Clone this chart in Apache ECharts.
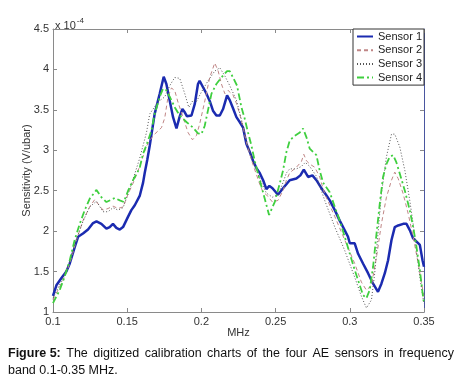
<!DOCTYPE html>
<html><head><meta charset="utf-8">
<script src="https://cdn.jsdelivr.net/npm/echarts@6/dist/echarts.min.js"></script>
<style>html,body{margin:0;padding:0;background:#fff}#c{width:460px;height:380px}</style>
</head><body><div id="c"></div>
<script>
// values in units of 1e-4 V/ubar, x in MHz
const seriesNames = ['Sensor 1', 'Sensor 2', 'Sensor 3', 'Sensor 4'];
const sensor1 = [[0.1,1.20],[0.1023,1.33],[0.1057,1.42],[0.109,1.50],[0.1113,1.60],[0.1146,1.80],[0.1169,1.93],[0.1202,1.97],[0.1236,2.02],[0.127,2.10],[0.1293,2.12],[0.1326,2.09],[0.136,2.03],[0.1382,2.05],[0.1404,2.09],[0.1427,2.04],[0.145,2.02],[0.1472,2.05],[0.1506,2.18],[0.1528,2.26],[0.1551,2.32],[0.1585,2.44],[0.1607,2.60],[0.1618,2.72],[0.1635,2.88],[0.1652,3.06],[0.1685,3.45],[0.1719,3.70],[0.1746,3.91],[0.1764,3.82],[0.1787,3.61],[0.1809,3.41],[0.1832,3.27],[0.1854,3.42],[0.1872,3.51],[0.1888,3.47],[0.1903,3.42],[0.1933,3.43],[0.1955,3.57],[0.1977,3.82],[0.1988,3.86],[0.2011,3.78],[0.2034,3.70],[0.2056,3.61],[0.2078,3.49],[0.2101,3.43],[0.2124,3.43],[0.2146,3.51],[0.2173,3.68],[0.2191,3.62],[0.2213,3.52],[0.2236,3.41],[0.2258,3.35],[0.2281,3.28],[0.2303,3.08],[0.2326,2.98],[0.2348,2.87],[0.2371,2.78],[0.2393,2.72],[0.2416,2.63],[0.2438,2.52],[0.2458,2.56],[0.2479,2.53],[0.2516,2.45],[0.255,2.53],[0.2595,2.63],[0.264,2.65],[0.2667,2.69],[0.269,2.76],[0.2719,2.67],[0.2748,2.69],[0.2775,2.63],[0.2809,2.53],[0.2843,2.44],[0.2865,2.38],[0.2899,2.26],[0.2932,2.13],[0.2966,2.01],[0.2988,1.93],[0.3,1.85],[0.3033,1.85],[0.3056,1.72],[0.3089,1.60],[0.3123,1.48],[0.3157,1.35],[0.319,1.25],[0.3213,1.35],[0.3236,1.48],[0.3258,1.64],[0.3281,1.89],[0.3303,2.05],[0.3326,2.07],[0.336,2.09],[0.3382,2.09],[0.3405,2.01],[0.3427,1.91],[0.345,1.87],[0.3472,1.83],[0.349,1.64],[0.35,1.56]];
const sensor2 = [[0.1,1.15],[0.1067,1.39],[0.1113,1.60],[0.1158,1.89],[0.1202,2.13],[0.1247,2.30],[0.1281,2.39],[0.1293,2.40],[0.1337,2.26],[0.1371,2.28],[0.1404,2.31],[0.1438,2.28],[0.1472,2.30],[0.1506,2.46],[0.1539,2.59],[0.1584,2.80],[0.1629,3.05],[0.1674,3.18],[0.1708,3.24],[0.1731,3.28],[0.1753,3.40],[0.1775,3.66],[0.1798,3.77],[0.182,3.74],[0.1843,3.59],[0.1876,3.41],[0.191,3.22],[0.194,3.13],[0.1966,3.18],[0.1989,3.33],[0.2023,3.61],[0.2056,3.90],[0.209,4.08],[0.2113,3.98],[0.2135,3.82],[0.2158,3.70],[0.218,3.74],[0.2214,3.68],[0.2236,3.58],[0.2258,3.45],[0.2281,3.28],[0.2303,3.10],[0.2326,2.95],[0.2348,2.82],[0.2371,2.70],[0.2393,2.58],[0.2416,2.48],[0.2438,2.45],[0.2479,2.36],[0.2516,2.38],[0.255,2.50],[0.2573,2.63],[0.2595,2.72],[0.264,2.79],[0.2674,2.86],[0.269,2.95],[0.2708,2.87],[0.273,2.83],[0.2764,2.79],[0.2797,2.67],[0.2831,2.46],[0.2899,2.18],[0.2966,1.89],[0.3033,1.60],[0.3078,1.37],[0.3112,1.27],[0.3146,1.33],[0.318,1.68],[0.3213,2.09],[0.3247,2.42],[0.3281,2.63],[0.3303,2.73],[0.3326,2.65],[0.336,2.46],[0.3393,2.22],[0.3427,1.93],[0.3461,1.60],[0.3488,1.31],[0.35,1.19]];
const sensor3 = [[0.1,1.17],[0.1067,1.42],[0.1113,1.62],[0.1158,1.90],[0.1202,2.12],[0.1247,2.30],[0.1293,2.37],[0.1337,2.24],[0.1371,2.24],[0.1404,2.29],[0.1438,2.26],[0.1472,2.29],[0.1506,2.46],[0.1539,2.64],[0.1584,2.90],[0.163,3.22],[0.1652,3.45],[0.1708,3.60],[0.1753,3.66],[0.1787,3.80],[0.182,3.90],[0.1854,3.89],[0.1888,3.70],[0.1915,3.53],[0.1944,3.62],[0.1966,3.60],[0.2,3.72],[0.2045,3.86],[0.209,3.98],[0.2124,4.02],[0.2158,3.92],[0.2191,3.80],[0.2236,3.62],[0.2281,3.30],[0.2303,3.12],[0.2326,2.98],[0.2348,2.86],[0.2371,2.75],[0.2405,2.60],[0.2438,2.47],[0.2479,2.42],[0.2516,2.45],[0.255,2.60],[0.2573,2.72],[0.2595,2.77],[0.264,2.77],[0.2674,2.80],[0.27,2.85],[0.273,2.80],[0.2775,2.68],[0.2831,2.38],[0.2899,2.05],[0.2966,1.76],[0.3033,1.43],[0.3079,1.19],[0.3112,1.05],[0.3146,1.15],[0.3168,1.48],[0.319,1.97],[0.3213,2.46],[0.3247,2.92],[0.3281,3.20],[0.3303,3.20],[0.3337,3.04],[0.3371,2.75],[0.3404,2.38],[0.3427,2.09],[0.3449,1.76],[0.3472,1.43],[0.35,1.10]];
const sensor4 = [[0.1,1.11],[0.1045,1.27],[0.1079,1.44],[0.1113,1.64],[0.1146,1.89],[0.118,2.09],[0.1214,2.26],[0.1247,2.40],[0.1293,2.51],[0.1326,2.42],[0.136,2.36],[0.1394,2.39],[0.1416,2.41],[0.145,2.38],[0.1477,2.36],[0.1506,2.50],[0.1539,2.63],[0.1584,2.78],[0.1607,2.96],[0.1629,3.06],[0.1663,3.24],[0.1685,3.45],[0.1719,3.66],[0.1741,3.76],[0.176,3.75],[0.1787,3.66],[0.1821,3.53],[0.1854,3.43],[0.1899,3.35],[0.1944,3.28],[0.1977,3.21],[0.2,3.20],[0.2022,3.30],[0.2045,3.50],[0.2068,3.70],[0.2101,3.82],[0.2135,3.90],[0.2173,3.98],[0.2191,3.98],[0.2213,3.90],[0.224,3.80],[0.227,3.53],[0.2292,3.39],[0.2314,3.22],[0.2337,3.06],[0.2359,2.87],[0.2382,2.71],[0.2405,2.55],[0.2427,2.40],[0.2456,2.20],[0.2494,2.36],[0.2528,2.59],[0.255,2.75],[0.2573,2.98],[0.2595,3.12],[0.2629,3.18],[0.2663,3.22],[0.2685,3.27],[0.2708,3.16],[0.273,3.02],[0.2752,2.98],[0.2775,2.94],[0.2797,2.75],[0.282,2.60],[0.2865,2.48],[0.2899,2.30],[0.2932,2.13],[0.2966,1.93],[0.3,1.72],[0.3033,1.52],[0.3067,1.33],[0.3089,1.21],[0.3112,1.17],[0.3134,1.27],[0.3157,1.56],[0.318,1.97],[0.3202,2.34],[0.3224,2.67],[0.3247,2.83],[0.3269,2.92],[0.3292,2.94],[0.3314,2.85],[0.3337,2.71],[0.3371,2.50],[0.3404,2.26],[0.3427,2.05],[0.3449,1.81],[0.3472,1.52],[0.3488,1.27],[0.35,1.10]];
const xRange = [0.1, 0.35, 0.05];
const yRange = [1, 4.5, 0.5];
const captionBold = 'Figure 5:';
const captionLine1 = 'The digitized calibration charts of the four AE sensors in frequency';
const captionLine2 = 'band 0.1-0.35 MHz.';

const chart = echarts.init(document.getElementById('c'), null, {renderer: 'canvas'});
const FONT = 'Liberation Sans, Arial, sans-serif';
const axisCol = '#8a8a8a';
const tickLbl = {color: '#333', fontSize: 11, fontFamily: FONT};
const styles = [
  {color: '#1b2bb0', width: 2.5, type: 'solid'},
  {color: '#c08686', width: 1, type: [4, 3]},
  {color: '#555555', width: 1, type: [1, 2]},
  {color: '#3fcf3f', width: 1.8, type: [7, 3, 2, 3]}
];
const datas = [sensor1, sensor2, sensor3, sensor4];

// justified caption line 1 (layout only)
const capFont = '12.5px ' + FONT;
const capBoldFont = 'bold 12.5px ' + FONT;
const ctx = document.createElement('canvas').getContext('2d');
const words = [{t: captionBold, bold: true}].concat(captionLine1.split(' ').map(t => ({t, bold: false})));
let totalW = 0;
words.forEach(w => { ctx.font = w.bold ? capBoldFont : capFont; w.w = ctx.measureText(w.t).width; totalW += w.w; });
const capLeft = 8, capRight = 454;
const gap = (capRight - capLeft - totalW) / (words.length - 1);
let cx = capLeft;
const capGraphics = words.map(w => {
  const g = {type: 'text', left: cx, top: 347, style: {text: w.t, fill: '#111', font: w.bold ? capBoldFont : capFont}};
  cx += w.w + gap;
  return g;
});

chart.setOption({
  animation: false,
  backgroundColor: '#fff',
  grid: {left: 53, top: 29, width: 371, height: 283, containLabel: false},
  xAxis: [
    {type: 'value', min: xRange[0], max: xRange[1], interval: xRange[2], position: 'bottom',
     name: 'MHz', nameLocation: 'middle', nameGap: 15, nameMoveOverlap: false,
     nameTextStyle: {color: '#333', fontSize: 11, fontFamily: FONT},
     axisLine: {show: true, lineStyle: {color: axisCol, width: 1}},
     axisTick: {show: true, inside: true, length: 4, lineStyle: {color: axisCol}},
     axisLabel: Object.assign({margin: 4}, tickLbl),
     splitLine: {show: false}},
    {type: 'value', min: xRange[0], max: xRange[1], interval: xRange[2], position: 'top',
     axisLine: {show: true, lineStyle: {color: axisCol, width: 1}},
     axisTick: {show: true, inside: true, length: 4, lineStyle: {color: axisCol}},
     axisLabel: {show: false}, splitLine: {show: false}}
  ],
  yAxis: [
    {type: 'value', min: yRange[0], max: yRange[1], interval: yRange[2], position: 'left',
     name: 'Sensitivity (V/ubar)', nameLocation: 'middle', nameGap: 21, nameMoveOverlap: false,
     nameTextStyle: {color: '#333', fontSize: 11, fontFamily: FONT},
     axisLine: {show: true, lineStyle: {color: axisCol, width: 1}},
     axisTick: {show: true, inside: true, length: 4, lineStyle: {color: axisCol}},
     axisLabel: Object.assign({margin: 4}, tickLbl),
     splitLine: {show: false}},
    {type: 'value', min: yRange[0], max: yRange[1], interval: yRange[2], position: 'right',
     axisLine: {show: true, lineStyle: {color: '#4a56a0', width: 1}},
     axisTick: {show: true, inside: true, length: 4, lineStyle: {color: axisCol}},
     axisLabel: {show: false}, splitLine: {show: false}}
  ],
  legend: {
    orient: 'vertical', left: 353, top: 29, align: 'left',
    backgroundColor: '#fff', borderColor: '#333', borderWidth: 1, borderRadius: 0,
    padding: [2, 2, 2, 3], itemWidth: 16, itemHeight: 11, itemGap: 2.7,
    itemStyle: {opacity: 0},
    textStyle: {color: '#222', fontSize: 11, fontFamily: FONT},
    data: seriesNames.slice()
  },
  series: seriesNames.map((n, i) => ({
    name: n, type: 'line', xAxisIndex: 0, yAxisIndex: 0,
    data: datas[i], symbol: 'none', showSymbol: false, smooth: false,
    lineStyle: styles[i], itemStyle: {color: styles[i].color}, z: 2 + i
  })),
  graphic: [
    {type: 'text', left: 55, top: 17, style: {
      text: '{a|x 10}{b|-4}', fill: '#333',
      rich: {a: {fontSize: 11, fontFamily: FONT, fill: '#333', verticalAlign: 'bottom'},
             b: {fontSize: 8, fontFamily: FONT, fill: '#333', verticalAlign: 'top', padding: [0,0,6,1]}}}},
    {type: 'text', left: 8, top: 364, style: {text: captionLine2, fill: '#111', font: capFont}}
  ].concat(capGraphics)
});
</script></body></html>
